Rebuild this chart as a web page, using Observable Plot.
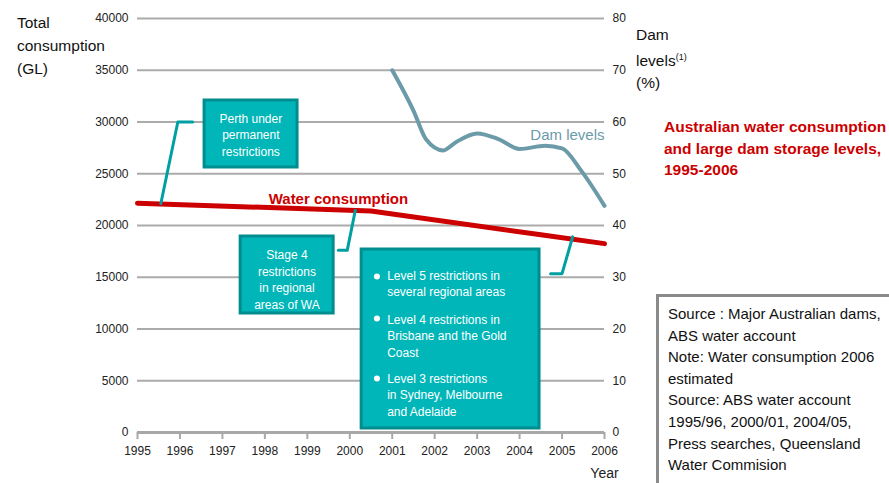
<!DOCTYPE html>
<html><head><meta charset="utf-8">
<script src="https://cdn.jsdelivr.net/npm/d3@7"></script>
<script src="https://cdn.jsdelivr.net/npm/@observablehq/plot@0.6"></script>
<style>
body{margin:0;background:#fff;font-family:"Liberation Sans",Arial,sans-serif;}
#wrap{position:relative;width:889px;height:483px;overflow:hidden;background:#fff;}
#wrap svg{position:absolute;left:0;top:0;}
.ov{position:absolute;white-space:nowrap;}
#ytitle{left:17px;top:11px;font-size:15.5px;line-height:23px;color:#111;}
#y2title{left:636px;top:24px;font-size:15.5px;line-height:22px;color:#111;}
#y2title sup{font-size:9px;vertical-align:6px;}
#title{left:664px;top:116px;font-size:15.5px;line-height:21.5px;font-weight:bold;color:#cc0000;}
#source{left:656px;top:294px;width:240px;height:180px;border:3px solid #8a8a8a;padding:6px 0 0 9px;font-size:15px;line-height:21.6px;color:#111;box-sizing:content-box;}
</style></head><body><div id="wrap"></div>
<script>
// axis ticks
const yearTicks = [1995,1996,1997,1998,1999,2000,2001,2002,2003,2004,2005,2006];
const consTicks = [0,5000,10000,15000,20000,25000,30000,35000,40000];
const damTicks = [0,10,20,30,40,50,60,70,80];
const damToCons = 500; // 80% <-> 40000 GL on shared vertical scale

// Water consumption (GL)
const consYears = [1995, 2000.5, 2004.5, 2006];
const consValues = [22150, 21400, 19100, 18250];

// Dam levels (%)
const damYears = [2001, 2001.5, 2001.8, 2002.2, 2002.5, 2003, 2003.5, 2004, 2004.6, 2005, 2005.45, 2006];
const damValues = [70, 62.2, 56.6, 54.5, 56.1, 57.8, 56.7, 54.8, 55.4, 54.9, 50.6, 43.8];

// annotation boxes (data units)
const boxIds = ["perth", "stage4", "levels"];
const boxX1 = [1996.58, 1997.43, 2000.28];
const boxX2 = [1998.77, 1999.62, 2004.47];
const boxYTop = [32077, 18937, 17681];
const boxYBottom = [25604, 11498, 386];

const boxTextX = [1997.67, 1998.52];
const boxTextY = [28841, 14879];
const boxTexts = ["Perth under\npermanent\nrestrictions", "Stage 4\nrestrictions\nin regional\nareas of WA"];

const bulletTexts = ["Level 5 restrictions in\nseveral regional areas", "Level 4 restrictions in\nBrisbane and the Gold\nCoast", "Level 3 restrictions\nin Sydney, Melbourne\nand Adelaide"];
const bulletTextY = [14463, 9420, 3739];
const bulletDotY = [15072, 11014, 5217];
const bulletTextX = 2000.88;
const bulletDotX = 2000.64;

// connector leader lines
const connectors = [
  {id:"perth", pts:[[1995.55,22130],[1995.95,30000],[1996.3,30000]]},
  {id:"stage4", pts:[[2000.13,21450],[1999.94,17600],[1999.73,17600]]},
  {id:"levels", pts:[[2005.25,18900],[2005.0,15350],[2004.73,15350]]}
];

const consData = consYears.map((y,i)=>({year:y, value:consValues[i]}));
const damData = damYears.map((y,i)=>({year:y, value:damValues[i]}));
const boxes = boxIds.map((id,i)=>({id, x1:boxX1[i], x2:boxX2[i], y1:boxYBottom[i], y2:boxYTop[i]}));
const boxLabels = boxTexts.map((t,i)=>({text:t, x:boxTextX[i], y:boxTextY[i]}));
const bullets = bulletTexts.map((t,i)=>({text:t, ty:bulletTextY[i], dy:bulletDotY[i]}));
const connPts = connectors.flatMap(c=>c.pts.map(p=>({id:c.id, x:p[0], y:p[1]})));

const font = '"Liberation Sans", Arial, sans-serif';

const chart = Plot.plot({
  width: 889, height: 483,
  marginLeft: 137, marginRight: 285, marginTop: 18, marginBottom: 51,
  x: {domain: [1995, 2006]},
  y: {domain: [0, 40000]},
  style: {fontFamily: font, background: "transparent", overflow: "visible"},
  marks: [
    Plot.ruleY(consTicks.filter(d => d > 0), {stroke: "#ababab", strokeWidth: 2.2}),
    Plot.ruleY([0], {stroke: "#a8a8a8", strokeWidth: 3}),
    Plot.axisX({ticks: yearTicks, tickFormat: d => String(d), tickSize: 7, tickPadding: 7, stroke: "#a8a8a8", strokeWidth: 2, fill: "#222", fontSize: 12, label: null}),
    Plot.axisY({anchor: "left", ticks: consTicks, tickFormat: d => String(d), tickSize: 0, tickPadding: 9, fill: "#222", fontSize: 12, label: null}),
    Plot.axisY({anchor: "right", ticks: damTicks.map(d => d * damToCons), tickFormat: d => String(d / damToCons), tickSize: 0, tickPadding: 8, fill: "#222", fontSize: 12, label: null}),
    Plot.text(["Year"], {x: () => 2006, frameAnchor: "bottom", dy: 45, text: d => d, fontSize: 14, fill: "#222"}),
    // data lines
    Plot.line(damData, {x: "year", y: d => d.value * damToCons, stroke: "#6b9aa8", strokeWidth: 4, curve: "monotone-x"}),
    Plot.line(consData, {x: "year", y: "value", stroke: "#cc0000", strokeWidth: 5}),
    Plot.text(["Water consumption"], {x: () => 1998.09, y: () => 22560, text: d => d, textAnchor: "start", fontSize: 15, fontWeight: "bold", fill: "#cc0000"}),
    Plot.text(["Dam levels"], {x: () => 2006, y: () => 28700, text: d => d, textAnchor: "end", fontSize: 15, fill: "#6b9aa8"}),
    // annotations
    Plot.line(connPts, {x: "x", y: "y", z: "id", stroke: "#00a0a2", strokeWidth: 3}),
    Plot.rect(boxes, {x1: "x1", x2: "x2", y1: "y1", y2: "y2", fill: "#00b6b8", stroke: "#008d8f", strokeWidth: 3}),
    Plot.text(boxLabels, {x: "x", y: "y", text: "text", fill: "white", fontSize: 12, lineHeight: 1.38, textAnchor: "middle"}),
    Plot.dot(bullets, {x: () => bulletDotX, y: "dy", r: 3, fill: "white", stroke: null}),
    Plot.text(bullets, {x: () => bulletTextX, y: "ty", text: "text", fill: "white", fontSize: 12, lineHeight: 1.38, textAnchor: "start"})
  ]
});

const wrap = document.getElementById("wrap");
wrap.appendChild(chart);
wrap.insertAdjacentHTML("beforeend",
  '<div class="ov" id="ytitle">Total<br>consumption<br>(GL)</div>' +
  '<div class="ov" id="y2title">Dam<br>levels<sup>(1)</sup><br>(%)</div>' +
  '<div class="ov" id="title">Australian water consumption<br>and large dam storage levels,<br>1995-2006</div>' +
  '<div class="ov" id="source">Source : Major Australian dams,<br>ABS water account<br>Note: Water consumption 2006<br>estimated<br>Source: ABS water account<br>1995/96, 2000/01, 2004/05,<br>Press searches, Queensland<br>Water Commision</div>'
);
</script>
</body></html>
